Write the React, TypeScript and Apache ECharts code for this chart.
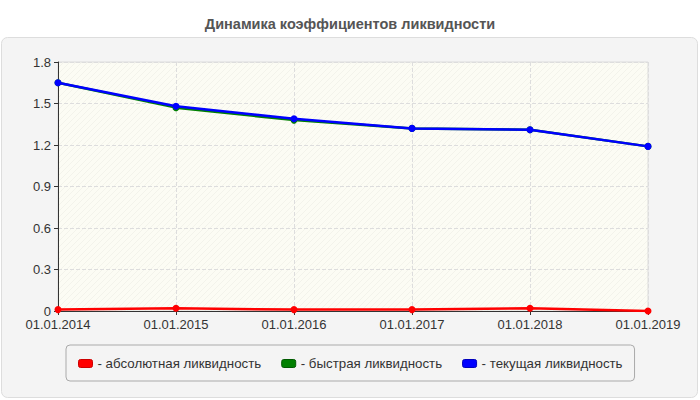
import { useEffect, useRef } from 'react';
import * as echarts from 'echarts';

// даты отчётов
const dates = ['01.01.2014', '01.01.2015', '01.01.2016', '01.01.2017', '01.01.2018', '01.01.2019'];

// коэффициенты
const absoluteLiq = [0.01, 0.02, 0.01, 0.01, 0.02, 0.0];
const quickLiq = [1.65, 1.47, 1.38, 1.32, 1.31, 1.19];
const currentLiq = [1.65, 1.48, 1.39, 1.32, 1.31, 1.19];

const seriesNames = ['абсолютная ликвидность', 'быстрая ликвидность', 'текущая ликвидность'];
const seriesColors = ['#ff0000', '#008000', '#0000ff'];
const iconBorders = ['#cc0000', '#005a00', '#0000bb'];

const yTicks = [0, 0.3, 0.6, 0.9, 1.2, 1.5, 1.8];

const fontFamily = "'Liberation Sans', Arial, sans-serif";

function makeHatch(): string {
    const c = document.createElement('canvas');
    c.width = 6;
    c.height = 6;
    const ctx = c.getContext('2d');
    if (ctx) {
        ctx.fillStyle = '#fcfcf4';
        ctx.fillRect(0, 0, 6, 6);
        ctx.strokeStyle = 'rgba(0,0,0,0.035)';
        ctx.lineWidth = 1;
        ctx.beginPath();
        ctx.moveTo(0, 6);
        ctx.lineTo(6, 0);
        ctx.moveTo(-3, 3);
        ctx.lineTo(3, -3);
        ctx.moveTo(3, 9);
        ctx.lineTo(9, 3);
        ctx.stroke();
    }
    return c.toDataURL();
}

export default function App() {
    const chartRef = useRef<HTMLDivElement>(null);

    useEffect(() => {
        if (!chartRef.current) return;
        const chart = echarts.init(chartRef.current, null, { renderer: 'svg' });

        const data = [absoluteLiq, quickLiq, currentLiq];

        const option: echarts.EChartsOption = {
            animation: false,
            backgroundColor: '#ffffff',
            textStyle: { fontFamily },
            title: {
                text: 'Динамика коэффициентов ликвидности',
                left: 'center',
                top: 11,
                textStyle: { fontFamily, fontSize: 14.5, fontWeight: 'bold', color: '#555555' }
            },
            graphic: [
                {
                    type: 'rect',
                    z: -10,
                    silent: true,
                    shape: { x: 1.5, y: 37.5, width: 696, height: 360, r: 6 },
                    style: { fill: '#f4f4f4', stroke: '#dddddd', lineWidth: 1 }
                }
            ],
            grid: {
                left: 58,
                right: 52,
                top: 62,
                bottom: 89,
                show: true,
                backgroundColor: { image: makeHatch(), repeat: 'repeat' } as any,
                borderColor: '#dddddd',
                borderWidth: 1
            },
            legend: {
                left: 66,
                top: 345,
                padding: [12, 12, 11, 12],
                itemGap: 20,
                itemWidth: 14,
                itemHeight: 8,
                icon: 'roundRect',
                backgroundColor: '#f4f4f4',
                borderColor: '#aaaaaa',
                borderWidth: 1,
                borderRadius: 4,
                formatter: (name: string) => '- ' + name,
                textStyle: { fontFamily, fontSize: 13.3, color: '#333333' },
                data: seriesNames.map((name, i) => ({
                    name,
                    itemStyle: { color: seriesColors[i], borderColor: iconBorders[i], borderWidth: 1 }
                }))
            },
            xAxis: {
                type: 'category',
                data: dates,
                boundaryGap: false,
                axisLine: { lineStyle: { color: '#333333', width: 1 } },
                axisTick: { show: true, length: 4, lineStyle: { color: '#333333' } },
                axisLabel: { fontFamily, fontSize: 13, color: '#333333', margin: 7 },
                splitLine: { show: true, lineStyle: { color: '#dddddd', type: 'dashed' } }
            },
            yAxis: {
                type: 'value',
                min: 0,
                max: 1.8,
                interval: 0.3,
                axisLine: { show: true, lineStyle: { color: '#333333', width: 1 } },
                axisTick: { show: true, length: 4, lineStyle: { color: '#333333' } },
                axisLabel: {
                    fontFamily,
                    fontSize: 13,
                    color: '#333333',
                    margin: 7,
                    formatter: (v: number) => {
                        const t = yTicks.find(y => Math.abs(y - v) < 1e-6);
                        return t === undefined ? '' : String(t);
                    }
                },
                splitLine: { show: true, lineStyle: { color: '#dddddd', type: 'dashed' } }
            },
            series: seriesNames.map((name, i) => ({
                name,
                type: 'line' as const,
                data: data[i],
                symbol: 'circle',
                symbolSize: 7,
                itemStyle: { color: seriesColors[i] },
                lineStyle: { color: seriesColors[i], width: 2.5 },
                z: 2 + i
            }))
        };

        chart.setOption(option);

        return () => {
            chart.dispose();
        };
    }, []);

    return (
        <div
            ref={chartRef}
            style={{ position: 'fixed', left: 0, top: 0, width: 700, height: 400 }}
        />
    );
}
